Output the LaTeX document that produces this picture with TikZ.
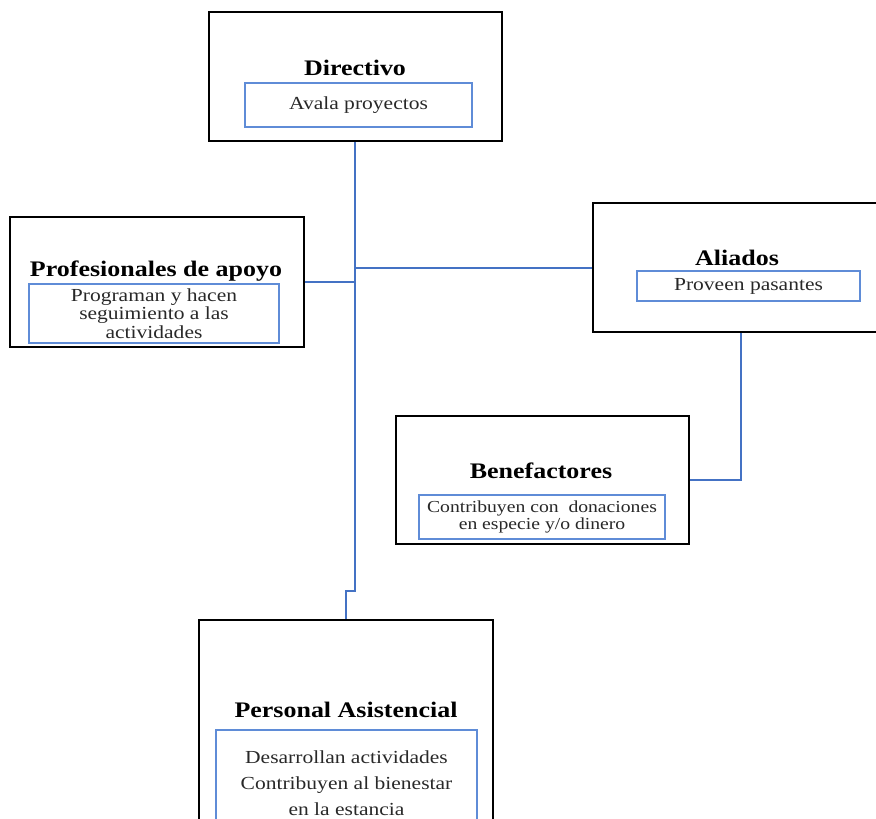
\documentclass[tikz,border=0pt]{standalone}
\usepackage{fontspec}
\setmainfont{Liberation Serif}[FakeStretch=1.17]
\usepackage{tikz}
\definecolor{linkblue}{RGB}{68,114,196}
\definecolor{boxblue}{RGB}{95,140,215}
\definecolor{txtgray}{RGB}{40,40,40}

\begin{document}
\begin{tikzpicture}[x=1pt, y=-1pt,
    outer/.style={draw=black, line width=1.6pt, rectangle, inner sep=0pt},
    inner/.style={draw=boxblue, line width=1.8pt, rectangle, inner sep=0pt, align=center, text=txtgray, font=\fontsize{18.4}{18.5}\selectfont},
    title/.style={anchor=base, font=\fontsize{22.2}{24}\selectfont\bfseries},
    link/.style={draw=linkblue, line width=2pt}]
    \clip (0,0) rectangle (876,819);

    % Outer boxes
    \node[outer, minimum width=293pt, minimum height=129pt] (dir) at (355.5,76.5) {};
    \node[outer, minimum width=294pt, minimum height=130pt] (pro) at (157,282) {};
    \node[outer, minimum width=287pt, minimum height=129pt] (ali) at (736.5,267.5) {};
    \node[outer, minimum width=293pt, minimum height=128pt] (ben) at (542.5,480) {};
    \node[outer, minimum width=294pt, minimum height=260pt] (per) at (346,750) {};

    % Titles
    \node[title] (dirt) at (355,75) {Directivo};
    \node[title] (prot) at (156,276.5) {Profesionales de apoyo};
    \node[title] (alit) at (737,265) {Aliados};
    \node[title] (bent) at (541,478) {Benefactores};
    \node[title] (pert) at (346,717) {Personal Asistencial};

    % Inner boxes
    \node[inner, minimum width=227pt, minimum height=44pt] (dirb) at (358.5,105) {Avala proyectos};
    \node[inner, minimum width=250pt, minimum height=59pt] (prob) at (154,313.5)
        {Programan y hacen\\seguimiento a las\\actividades};
    \node[inner, minimum width=223pt, minimum height=30pt] (alib) at (748.5,286) {Proveen pasantes};
    \node[inner, minimum width=246pt, minimum height=44pt, font=\fontsize{16.8}{17}\selectfont] (benb) at (542,517)
        {Contribuyen con\ \ donaciones\\en especie y/o dinero};
    \node[inner, minimum width=261pt, minimum height=106pt, font=\fontsize{18.4}{26}\selectfont] (perb) at (346.5,783)
        {Desarrollan actividades\\Contribuyen al bienestar\\en la estancia};

    % Connectors
    \coordinate (jog) at (355,591);
    \draw[link] (dir.south -| jog) -- (jog) -- (jog -| per.north) -- (per.north);
    \draw[link] (pro.east) -- (pro.east -| jog);
    \draw[link] (ali.west -| jog) -- (ali.west);
    \draw[link] ([xshift=4pt]ali.south) |- (ben.east);
\end{tikzpicture}
\end{document}
